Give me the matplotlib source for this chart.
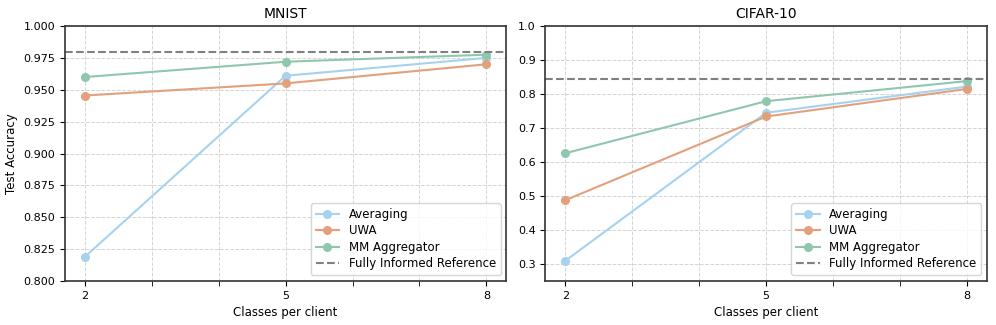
import numpy as np
import matplotlib
matplotlib.use("Agg")
from matplotlib import pyplot as plt

classes = [2, 5, 8]

mnist_avg = [0.819, 0.961, 0.975]
mnist_uwa = [0.9455, 0.955, 0.970]
mnist_mm = [0.960, 0.972, 0.9775]
mnist_ref = 0.980

cifar_avg = [0.310, 0.745, 0.822]
cifar_uwa = [0.488, 0.734, 0.815]
cifar_mm = [0.626, 0.779, 0.838]
cifar_ref = 0.845

col_avg = '#a6d2f0'
col_uwa = '#e3a07c'
col_mm = '#8fc7ad'

fig, axes = plt.subplots(1, 2, figsize=(9.96, 3.25), dpi=100)

panels = [
    (axes[0], 'MNIST', mnist_avg, mnist_uwa, mnist_mm, mnist_ref, (0.8, 1.0)),
    (axes[1], 'CIFAR-10', cifar_avg, cifar_uwa, cifar_mm, cifar_ref, (0.25, 1.0)),
]

for ax, title, avg, uwa, mm, ref, ylim in panels:
    ax.plot(classes, avg, marker='o', ms=5.5, lw=1.5, color=col_avg, label='Averaging')
    ax.plot(classes, uwa, marker='o', ms=5.5, lw=1.5, color=col_uwa, label='UWA')
    ax.plot(classes, mm, marker='o', ms=5.5, lw=1.5, color=col_mm, label='MM Aggregator')
    ax.axhline(ref, color='gray', ls='--', lw=1.5, label='Fully Informed Reference')
    ax.set_title(title, fontsize=10)
    ax.set_xlabel('Classes per client', fontsize=8.5)
    ax.set_xticks(classes)
    ax.set_xticks([3, 4, 6, 7], minor=True)
    ax.set_xlim(1.7, 8.3)
    ax.set_ylim(*ylim)
    ax.tick_params(labelsize=8)
    ax.tick_params(which='minor', length=3.5)
    ax.grid(True, which='both', ls='--', color='#d4d4d4', lw=0.7)
    for s in ax.spines.values():
        s.set_linewidth(1.2)
        s.set_color('#333333')
    ax.legend(loc='lower right', fontsize=8.5, labelspacing=0.3)

axes[0].set_yticks(np.arange(0.8, 1.001, 0.025))
axes[0].yaxis.set_major_formatter(matplotlib.ticker.FormatStrFormatter('%.3f'))
axes[1].set_yticks(np.arange(0.3, 1.001, 0.1))
axes[1].yaxis.set_major_formatter(matplotlib.ticker.FormatStrFormatter('%.1f'))
axes[0].set_ylabel('Test Accuracy', fontsize=8.5)

plt.subplots_adjust(left=0.065, right=0.991, top=0.92, bottom=0.135, wspace=0.088)
plt.savefig('out.png', dpi=100)
